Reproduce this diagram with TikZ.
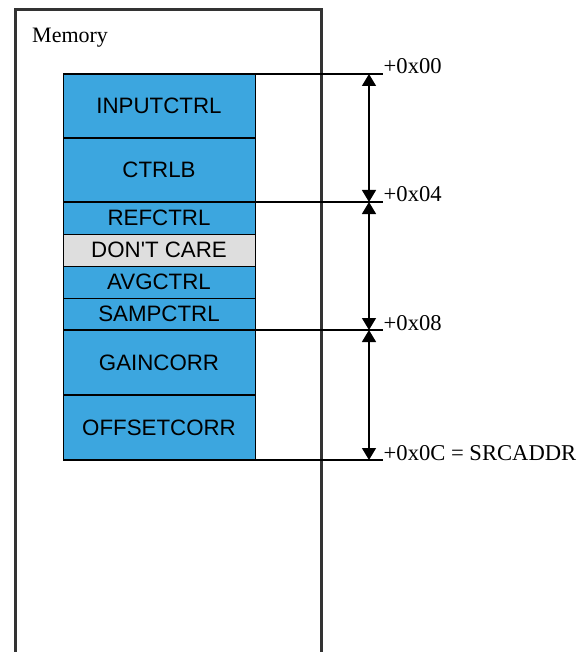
\documentclass[tikz,border=0pt]{standalone}
\usepackage{fontspec}
\setmainfont{Liberation Serif}
\newfontfamily\regfont{Liberation Sans}
\usetikzlibrary{arrows.meta}
\definecolor{regblue}{HTML}{3CA6DF}
\definecolor{reggray}{HTML}{DEDEDE}
\definecolor{memframe}{HTML}{333333}
\tikzset{
  reg/.style={draw=black, line width=1pt, fill=regblue, anchor=north west,
    minimum width=192pt, inner sep=0pt, outer sep=0pt,
    font=\regfont\fontsize{22.3}{26}\selectfont},
  gap/.style={reg, fill=reggray},
  grpline/.style={line width=2pt},
  tick/.style={line width=1.3pt},
  span/.style={line width=1.3pt, {Triangle[width=14pt,length=12pt]}-{Triangle[width=14pt,length=12pt]}, shorten <=0pt, shorten >=0pt},
  addr/.style={anchor=base west, inner sep=0pt, font=\fontsize{22.6}{26}\selectfont},
}
\begin{document}
\begin{tikzpicture}[x=1pt,y=-1pt]
\useasboundingbox (0,0) rectangle (584,652);
% memory frame (open at bottom)
\coordinate (mbl) at (15,652);
\coordinate (mtl) at (15,10);
\coordinate (mtr) at (321,10);
\coordinate (mbr) at (321,652);
\draw[line width=3pt, draw=memframe, line join=miter] (mbl) -- (mtl) -- (mtr) -- (mbr);
\node[addr, font=\fontsize{22}{26}\selectfont] (memlbl) at (32,43) {Memory};
% registers
\node[reg, minimum height=64pt] (inputctrl) at (63,74) {INPUTCTRL};
\node[reg, minimum height=64pt] (ctrlb) at (63,138) {CTRLB};
\node[reg, minimum height=32pt] (refctrl) at (63,202) {REFCTRL};
\node[gap, minimum height=32pt] (dontcare) at (63,234) {DON'T CARE};
\node[reg, minimum height=32pt] (avgctrl) at (63,266) {AVGCTRL};
\node[reg, minimum height=32pt] (sampctrl) at (63,298) {SAMPCTRL};
\node[reg, minimum height=65pt] (gaincorr) at (63,330) {GAINCORR};
\node[reg, minimum height=65pt] (offsetcorr) at (63,395) {OFFSETCORR};
% group boundaries
\draw[grpline] (inputctrl.south west) -- (inputctrl.south east);
\draw[grpline] (refctrl.north west) -- (refctrl.north east);
\draw[grpline] (gaincorr.north west) -- (gaincorr.north east);
\draw[grpline] (gaincorr.south west) -- (gaincorr.south east);
\draw[grpline] (inputctrl.north west) -- (inputctrl.north east);
\draw[grpline] (offsetcorr.south west) -- (offsetcorr.south east);
% tick line ends
\coordinate (t0) at (383,74);
\coordinate (t1) at (383,202);
\coordinate (t2) at (383,330);
\coordinate (t3) at (383,460);
\coordinate (a0) at (369,74);
\coordinate (a1) at (369,202);
\coordinate (a2) at (369,330);
\coordinate (a3) at (369,460);
\draw[tick] (inputctrl.north west) -- (t0);
\draw[tick] (refctrl.north east) -- (t1);
\draw[tick] (gaincorr.north east) -- (t2);
\draw[tick] (offsetcorr.south east) -- (t3);
\draw[span] (a0) -- (a1);
\draw[span] (a1) -- (a2);
\draw[span] (a2) -- (a3);
% labels
\node[addr] (l0) at ([xshift=0.5pt]t0) {+0x00};
\node[addr] (l1) at ([xshift=0.5pt]t1) {+0x04};
\node[addr] (l2) at ([xshift=0.5pt]t2) {+0x08};
\node[addr] (l3) at ([xshift=0.5pt]t3) {+0x0C = SRCADDR};
\end{tikzpicture}
\end{document}
